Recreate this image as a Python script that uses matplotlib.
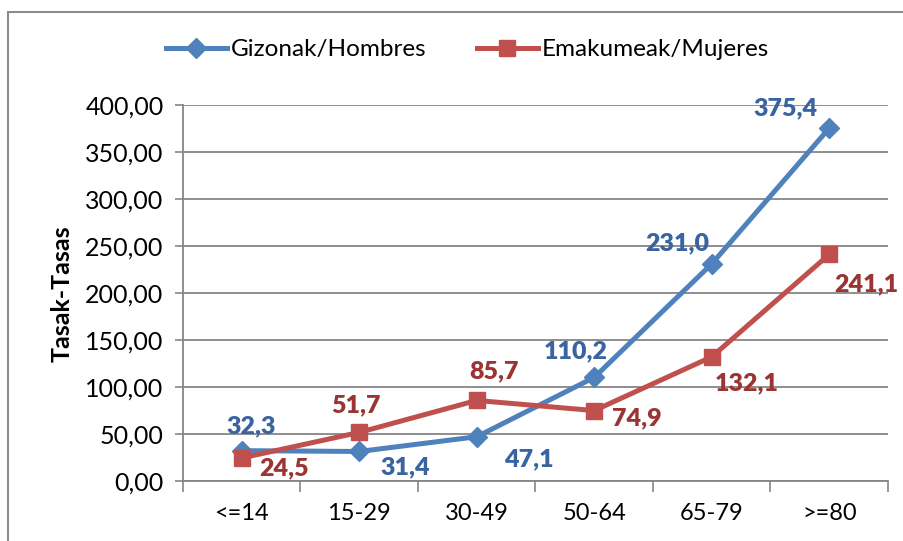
import matplotlib.pyplot as plt
from matplotlib.patches import Rectangle
from matplotlib.ticker import FuncFormatter

plt.rcParams['font.family'] = ['Lato', 'DejaVu Sans']

grupos = ['<=14', '15-29', '30-49', '50-64', '65-79', '>=80']
hombres = [32.3, 31.4, 47.1, 110.2, 231.0, 375.4]
mujeres = [24.5, 51.7, 85.7, 74.9, 132.1, 241.1]

# desplazamiento de las etiquetas (pixeles)
off_h = [(9, 24), (46, -16), (52, -23), (-18, 26), (-34, 21), (-44, 20)]
off_m = [(42, -10), (-3, 27), (17, 29), (43, -8), (35, -26), (37, -30)]

azul = '#4F81BD'
rojo = '#C0504D'
azul_txt = '#3A64A0'
rojo_txt = '#9B3533'
gris = '#868686'

fig = plt.figure(figsize=(9.04, 5.41), dpi=100)
ax = fig.add_axes([0.2024, 0.1109, 0.7799, 0.6950])

x = range(len(grupos))
ax.plot(x, hombres, color=azul, lw=3.6, marker='D', ms=10, label='Gizonak/Hombres', zorder=3)
ax.plot(x, mujeres, color=rojo, lw=3.6, marker='s', ms=12, label='Emakumeak/Mujeres', zorder=3)

for i, v in enumerate(hombres):
    ax.annotate(f'{v:.1f}'.replace('.', ','), (i, v), xytext=off_h[i], textcoords='offset pixels',
                ha='center', va='center', color=azul_txt, fontsize=18, fontweight='heavy')
for i, v in enumerate(mujeres):
    ax.annotate(f'{v:.1f}'.replace('.', ','), (i, v), xytext=off_m[i], textcoords='offset pixels',
                ha='center', va='center', color=rojo_txt, fontsize=18, fontweight='heavy')

ax.set_xlim(-0.5, 5.5)
ax.set_ylim(0, 400)
ax.set_yticks(range(0, 401, 50))
ax.yaxis.set_major_formatter(FuncFormatter(lambda v, p: f'{v:.2f}'.replace('.', ',')))
ax.set_xticks([i - 0.5 for i in range(7)])
ax.set_xticklabels([])
ax.set_xticks(list(x), minor=True)
ax.set_xticklabels(grupos, minor=True)
ax.tick_params(axis='x', which='major', length=8, width=1.2, color=gris)
ax.tick_params(axis='x', which='minor', length=0, pad=16, labelsize=17)
ax.tick_params(axis='y', length=6, width=1.2, color=gris, labelsize=18, pad=8)

ax.grid(axis='y', color=gris, lw=1.3)
ax.set_axisbelow(True)
for s in ['top', 'right']:
    ax.spines[s].set_visible(False)
for s in ['left', 'bottom']:
    ax.spines[s].set_color(gris)
    ax.spines[s].set_linewidth(1.3)

fig.text(0.069, 0.458, 'Tasak-Tasas', rotation=90, ha='center', va='center',
         fontsize=18, fontweight='bold')

fig.legend(loc='center', bbox_to_anchor=(0.517, 0.908), ncol=2, frameon=False,
           fontsize=17.5, handlelength=2.5, columnspacing=2.1, handletextpad=0.15)

fig.add_artist(Rectangle((8 / 904, -0.05), 1.0, 1 - 12 / 541 + 0.05, transform=fig.transFigure,
                         fill=False, edgecolor='#8C8C8C', lw=1.5, clip_on=False))

fig.savefig('out.png')
